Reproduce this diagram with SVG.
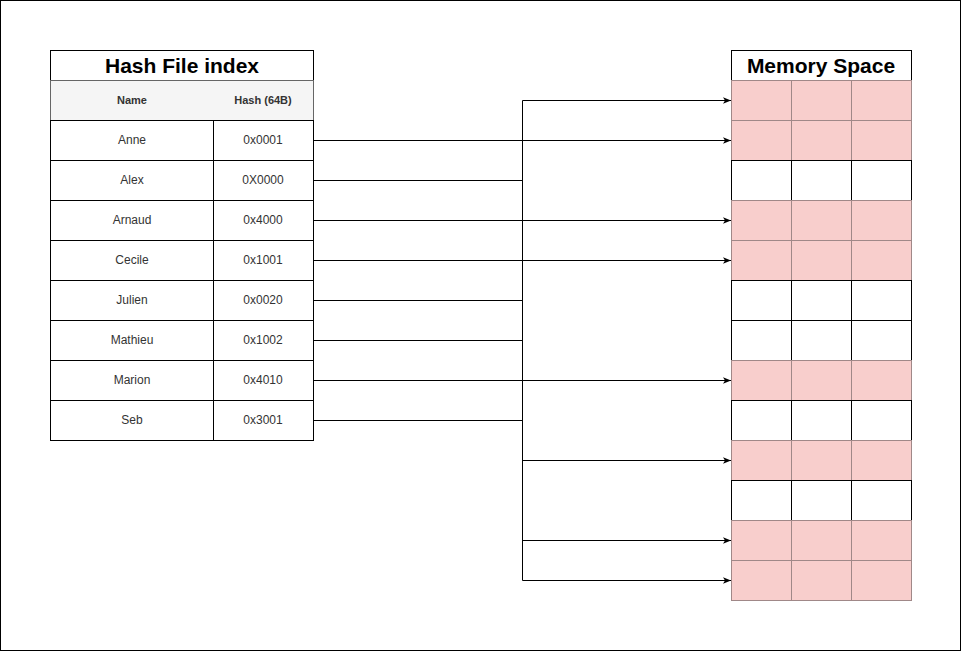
<svg xmlns="http://www.w3.org/2000/svg" width="961" height="651" viewBox="0 0 961 651">
<defs>
<style>
.t{font-family:"Liberation Sans",Arial,sans-serif;font-weight:bold;font-size:21px;fill:#000;text-anchor:middle}
.h{font-family:"Liberation Sans",Arial,sans-serif;font-weight:bold;font-size:11px;fill:#333;text-anchor:middle}
.d{font-family:"Liberation Sans",Arial,sans-serif;font-size:12px;fill:#333;text-anchor:middle}
.c{fill:#fff;stroke:#000;stroke-width:1}
.hd{fill:#f5f5f5;stroke:#666;stroke-width:1}
.p{fill:#f8cecc;stroke:#a08888;stroke-width:1}
.w{fill:#fff;stroke:#000;stroke-width:1}
.e{fill:none;stroke:#000;stroke-width:1}
</style>
<marker id="a" viewBox="0 0 10 10" refX="10" refY="5" markerWidth="8" markerHeight="8" markerUnits="userSpaceOnUse" orient="auto"><path d="M0,1 L10,5 L0,9 L2.5,5 Z" fill="#000"/></marker>
</defs>
<rect x="0.5" y="0.5" width="960" height="650" fill="#fff" stroke="#000"/>
<g id="hash-table">
<rect class="c" x="50.5" y="50.5" width="263" height="30"/>
<text class="t" x="182" y="73">Hash File index</text>
<rect class="hd" x="50.5" y="80.5" width="263" height="40"/>
<text class="h" x="132" y="104">Name</text>
<text class="h" x="263" y="104">Hash (64B)</text>
<g id="row-anne"><rect class="c" x="50.5" y="120.5" width="163" height="40"/><rect class="c" x="213.5" y="120.5" width="100" height="40"/><text class="d" x="132" y="144">Anne</text><text class="d" x="263" y="144">0x0001</text></g>
<g id="row-alex"><rect class="c" x="50.5" y="160.5" width="163" height="40"/><rect class="c" x="213.5" y="160.5" width="100" height="40"/><text class="d" x="132" y="184">Alex</text><text class="d" x="263" y="184">0X0000</text></g>
<g id="row-arnaud"><rect class="c" x="50.5" y="200.5" width="163" height="40"/><rect class="c" x="213.5" y="200.5" width="100" height="40"/><text class="d" x="132" y="224">Arnaud</text><text class="d" x="263" y="224">0x4000</text></g>
<g id="row-cecile"><rect class="c" x="50.5" y="240.5" width="163" height="40"/><rect class="c" x="213.5" y="240.5" width="100" height="40"/><text class="d" x="132" y="264">Cecile</text><text class="d" x="263" y="264">0x1001</text></g>
<g id="row-julien"><rect class="c" x="50.5" y="280.5" width="163" height="40"/><rect class="c" x="213.5" y="280.5" width="100" height="40"/><text class="d" x="132" y="304">Julien</text><text class="d" x="263" y="304">0x0020</text></g>
<g id="row-mathieu"><rect class="c" x="50.5" y="320.5" width="163" height="40"/><rect class="c" x="213.5" y="320.5" width="100" height="40"/><text class="d" x="132" y="344">Mathieu</text><text class="d" x="263" y="344">0x1002</text></g>
<g id="row-marion"><rect class="c" x="50.5" y="360.5" width="163" height="40"/><rect class="c" x="213.5" y="360.5" width="100" height="40"/><text class="d" x="132" y="384">Marion</text><text class="d" x="263" y="384">0x4010</text></g>
<g id="row-seb"><rect class="c" x="50.5" y="400.5" width="163" height="40"/><rect class="c" x="213.5" y="400.5" width="100" height="40"/><text class="d" x="132" y="424">Seb</text><text class="d" x="263" y="424">0x3001</text></g>
</g>
<g id="memory-space">
<rect class="c" x="731.5" y="50.5" width="180" height="30"/>
<text class="t" x="821" y="73">Memory Space</text>
<g id="m0"><rect class="p" x="731.5" y="80.5" width="60" height="40"/><rect class="p" x="791.5" y="80.5" width="60" height="40"/><rect class="p" x="851.5" y="80.5" width="60" height="40"/></g>
<g id="m1"><rect class="p" x="731.5" y="120.5" width="60" height="40"/><rect class="p" x="791.5" y="120.5" width="60" height="40"/><rect class="p" x="851.5" y="120.5" width="60" height="40"/></g>
<g id="m2"><rect class="w" x="731.5" y="160.5" width="60" height="40"/><rect class="w" x="791.5" y="160.5" width="60" height="40"/><rect class="w" x="851.5" y="160.5" width="60" height="40"/></g>
<g id="m3"><rect class="p" x="731.5" y="200.5" width="60" height="40"/><rect class="p" x="791.5" y="200.5" width="60" height="40"/><rect class="p" x="851.5" y="200.5" width="60" height="40"/></g>
<g id="m4"><rect class="p" x="731.5" y="240.5" width="60" height="40"/><rect class="p" x="791.5" y="240.5" width="60" height="40"/><rect class="p" x="851.5" y="240.5" width="60" height="40"/></g>
<g id="m5"><rect class="w" x="731.5" y="280.5" width="60" height="40"/><rect class="w" x="791.5" y="280.5" width="60" height="40"/><rect class="w" x="851.5" y="280.5" width="60" height="40"/></g>
<g id="m6"><rect class="w" x="731.5" y="320.5" width="60" height="40"/><rect class="w" x="791.5" y="320.5" width="60" height="40"/><rect class="w" x="851.5" y="320.5" width="60" height="40"/></g>
<g id="m7"><rect class="p" x="731.5" y="360.5" width="60" height="40"/><rect class="p" x="791.5" y="360.5" width="60" height="40"/><rect class="p" x="851.5" y="360.5" width="60" height="40"/></g>
<g id="m8"><rect class="w" x="731.5" y="400.5" width="60" height="40"/><rect class="w" x="791.5" y="400.5" width="60" height="40"/><rect class="w" x="851.5" y="400.5" width="60" height="40"/></g>
<g id="m9"><rect class="p" x="731.5" y="440.5" width="60" height="40"/><rect class="p" x="791.5" y="440.5" width="60" height="40"/><rect class="p" x="851.5" y="440.5" width="60" height="40"/></g>
<g id="m10"><rect class="w" x="731.5" y="480.5" width="60" height="40"/><rect class="w" x="791.5" y="480.5" width="60" height="40"/><rect class="w" x="851.5" y="480.5" width="60" height="40"/></g>
<g id="m11"><rect class="p" x="731.5" y="520.5" width="60" height="40"/><rect class="p" x="791.5" y="520.5" width="60" height="40"/><rect class="p" x="851.5" y="520.5" width="60" height="40"/></g>
<g id="m12"><rect class="p" x="731.5" y="560.5" width="60" height="40"/><rect class="p" x="791.5" y="560.5" width="60" height="40"/><rect class="p" x="851.5" y="560.5" width="60" height="40"/></g>
</g>
<g id="connectors">
<path class="e" d="M522.5,100.5 V580.5"/>
<path class="e" d="M313.5,180.5 H522.5"/>
<path class="e" d="M313.5,300.5 H522.5"/>
<path class="e" d="M313.5,340.5 H522.5"/>
<path class="e" d="M313.5,420.5 H522.5"/>
<path class="e" d="M313.5,140.5 H731" marker-end="url(#a)"/>
<path class="e" d="M313.5,220.5 H731" marker-end="url(#a)"/>
<path class="e" d="M313.5,260.5 H731" marker-end="url(#a)"/>
<path class="e" d="M313.5,380.5 H731" marker-end="url(#a)"/>
<path class="e" d="M522.5,100.5 H731" marker-end="url(#a)"/>
<path class="e" d="M522.5,460.5 H731" marker-end="url(#a)"/>
<path class="e" d="M522.5,540.5 H731" marker-end="url(#a)"/>
<path class="e" d="M522.5,580.5 H731" marker-end="url(#a)"/>
</g>
</svg>
